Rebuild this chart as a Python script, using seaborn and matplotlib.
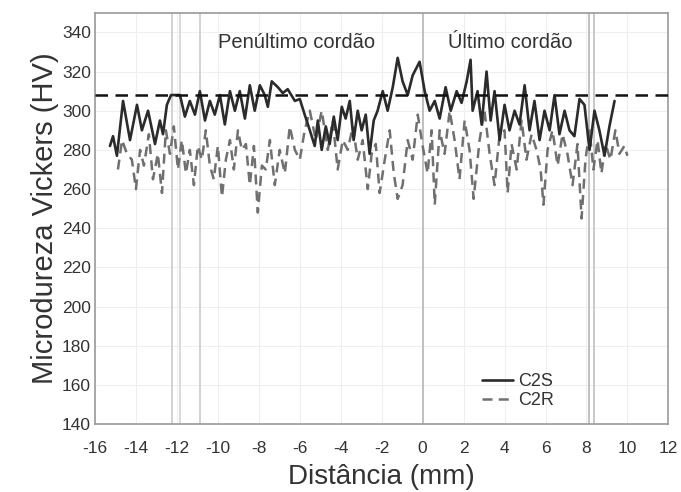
import matplotlib
matplotlib.use("Agg")
import matplotlib.pyplot as plt
import seaborn as sns
import pandas as pd

# ---- data ----
c2s_x = [-15.27, -15.12, -14.93, -14.63, -14.29, -13.95, -13.71, -13.41, -13.07, -12.83,
         -12.68, -12.49, -12.29, -11.85, -11.61, -11.37, -11.12, -10.88, -10.63, -10.39,
         -10.15, -9.90, -9.66, -9.41, -9.17, -8.93, -8.68, -8.44, -8.20, -7.95,
         -7.71, -7.56, -7.37, -7.07, -6.83, -6.59, -6.24, -6.00, -5.76, -5.51,
         -5.27, -5.12, -4.93, -4.73, -4.54, -4.34, -4.15, -3.95, -3.76, -3.56,
         -3.37, -3.17, -2.98, -2.78, -2.59, -2.39, -2.20, -1.95, -1.71, -1.46,
         -1.22, -0.98, -0.73, -0.49, -0.15, 0.10, 0.34, 0.59, 0.83, 1.12,
         1.37, 1.66, 1.90, 2.15, 2.34, 2.44, 2.68, 2.88, 3.12, 3.32,
         3.51, 3.76, 4.00, 4.24, 4.49, 4.73, 4.98, 5.22, 5.46, 5.71,
         5.95, 6.20, 6.44, 6.68, 6.93, 7.17, 7.41, 7.66, 7.90, 8.15,
         8.39, 8.63, 8.88, 9.12, 9.37]
c2s_hv = [282, 287, 277, 305, 285, 303, 290, 300, 283, 295,
          288, 303, 308, 308, 297, 305, 298, 310, 295, 305,
          298, 308, 293, 310, 300, 310, 296, 313, 300, 313,
          308, 302, 315, 312, 309, 311, 305, 306, 298, 290,
          282, 295, 280, 292, 283, 297, 285, 302, 296, 305,
          285, 300, 290, 298, 278, 295, 300, 310, 300, 312,
          327, 315, 308, 318, 325, 310, 300, 305, 296, 312,
          300, 310, 304, 315, 326, 300, 310, 293, 320, 295,
          310, 285, 303, 290, 300, 293, 313, 290, 305, 285,
          300, 290, 308, 288, 300, 290, 287, 306, 303, 280,
          300, 290, 277, 292, 305]

c2r_x = [-14.88, -14.68, -14.44, -14.20, -14.00, -13.80, -13.61, -13.37, -13.17, -12.93,
         -12.73, -12.54, -12.34, -12.15, -11.95, -11.76, -11.56, -11.37, -11.17, -10.98,
         -10.78, -10.59, -10.39, -10.20, -10.00, -9.80, -9.61, -9.41, -9.22, -9.02,
         -8.83, -8.63, -8.44, -8.24, -8.05, -7.85, -7.66, -7.46, -7.22, -6.98,
         -6.73, -6.49, -6.24, -6.00, -5.76, -5.51, -5.22, -4.93, -4.63, -4.39,
         -4.15, -3.90, -3.66, -3.41, -3.17, -2.93, -2.68, -2.49, -2.29, -2.10,
         -1.85, -1.61, -1.41, -1.22, -0.98, -0.73, -0.49, -0.24, 0.00, 0.24,
         0.44, 0.59, 0.83, 1.07, 1.32, 1.56, 1.80, 2.05, 2.29, 2.49,
         2.78, 3.02, 3.27, 3.51, 3.76, 4.00, 4.15, 4.34, 4.59, 4.83,
         5.07, 5.32, 5.56, 5.76, 5.90, 6.10, 6.34, 6.59, 6.83, 7.07,
         7.32, 7.56, 7.76, 7.95, 8.15, 8.34, 8.54, 8.73, 8.93, 9.17,
         9.41, 9.61, 9.85, 10.00]
c2r_hv = [270, 285, 278, 275, 260, 280, 272, 288, 265, 278,
          258, 290, 278, 292, 270, 285, 268, 280, 262, 282,
          275, 290, 272, 265, 282, 256, 275, 285, 270, 290,
          280, 283, 262, 282, 248, 272, 270, 285, 262, 280,
          268, 292, 280, 275, 290, 300, 285, 300, 280, 295,
          270, 285, 280, 292, 275, 285, 260, 278, 283, 258,
          275, 290, 268, 255, 262, 285, 275, 298, 282, 268,
          290, 252, 290, 278, 300, 285, 265, 295, 280, 255,
          285, 300, 278, 262, 288, 290, 258, 283, 270, 295,
          275, 288, 280, 270, 252, 280, 290, 272, 288, 278,
          262, 283, 245, 275, 290, 270, 285, 268, 283, 275,
          290, 278, 282, 277]

reference_hv = 308
series_names = ["C2S", "C2R"]
annotations = ["Penúltimo cordão", "Último cordão"]
x_ticks = list(range(-16, 13, 2))
y_ticks = list(range(140, 341, 20))

# ---- plot ----
sns.set_theme(style="white")
plt.rcParams["font.family"] = ["Liberation Sans", "DejaVu Sans"]
plt.rcParams["axes.unicode_minus"] = False

fig = plt.figure(figsize=(6.81, 4.92), dpi=100)
ax = fig.add_axes([0.1395, 0.138, 0.842, 0.836])

# faint grid
for yt in y_ticks:
    ax.axhline(yt, color="#efefef", lw=0.8, zorder=0)
for xt in x_ticks:
    ax.axvline(xt, color="#efefef", lw=0.8, zorder=0)
for xv, c in [(-12.24, "#d2d2d2"), (-11.85, "#dadada"), (-10.88, "#d2d2d2"),
              (0.0, "#c0c0c0"), (8.1, "#c0c0c0"), (8.35, "#c8c8c8")]:
    ax.axvline(xv, color=c, lw=1.4, zorder=0)

df_s = pd.DataFrame({"x": c2s_x, "hv": c2s_hv})
df_r = pd.DataFrame({"x": c2r_x, "hv": c2r_hv})
sns.lineplot(data=df_r, x="x", y="hv", ax=ax, color="#707070", lw=1.8,
             linestyle=(0, (4, 2.5)), label=series_names[1], zorder=2)
sns.lineplot(data=df_s, x="x", y="hv", ax=ax, color="#2b2b2b", lw=1.9,
             label=series_names[0], zorder=3)
ax.axhline(reference_hv, color="#111111", lw=1.8, linestyle=(0, (5, 3)), zorder=4)

ax.text(-6.15, 335, annotations[0], ha="center", va="center", fontsize=14.5, color="#333333")
ax.text(4.3, 335, annotations[1], ha="center", va="center", fontsize=14.5, color="#333333")

ax.set_xlim(-16, 12)
ax.set_ylim(140, 350)
ax.set_xticks(x_ticks)
ax.set_yticks(y_ticks)
ax.tick_params(axis="y", labelsize=12.5, colors="#333333", length=0, pad=3)
ax.tick_params(axis="x", labelsize=12.5, colors="#333333", length=0, pad=12)
ax.set_xlabel("Distância (mm)", fontsize=20, color="#333333", labelpad=6)
ax.set_ylabel("Microdureza Vickers (HV)", fontsize=21, color="#333333", labelpad=2)
for s in ax.spines.values():
    s.set_color("#9a9a9a")
    s.set_linewidth(1.2)

h, l = ax.get_legend_handles_labels()
order = [l.index("C2S"), l.index("C2R")]
ax.legend([h[i] for i in order], [l[i] for i in order], loc="lower left",
          bbox_to_anchor=(0.66, 0.015), frameon=False, fontsize=13, borderpad=0,
          handlelength=1.7, handletextpad=0.3, labelspacing=0.1, labelcolor="#333333")

fig.savefig("out.png", dpi=100)
